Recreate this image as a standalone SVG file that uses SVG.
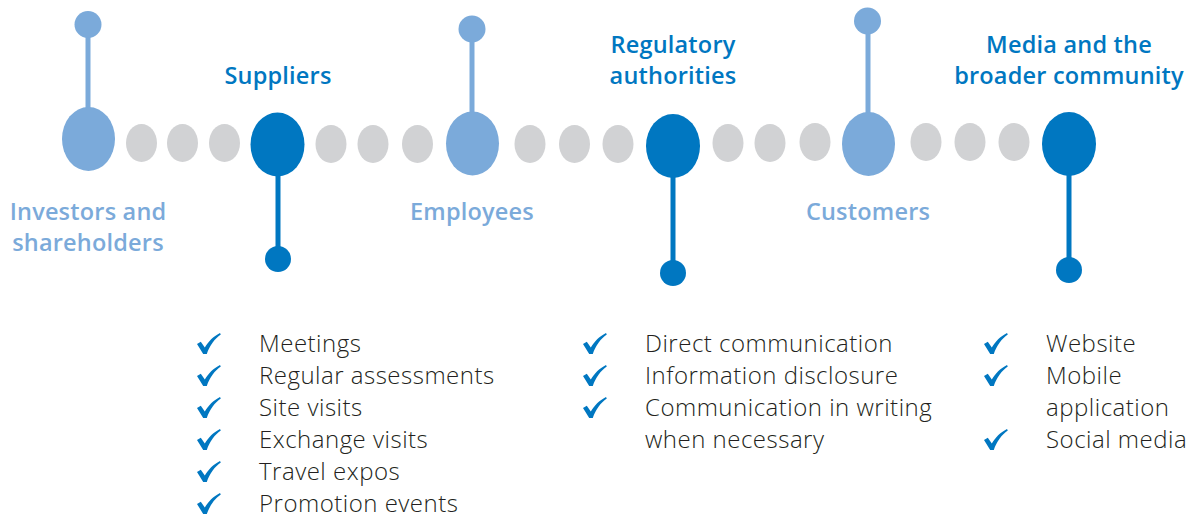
<svg xmlns="http://www.w3.org/2000/svg" xmlns:xlink="http://www.w3.org/1999/xlink" width="1195" height="517" viewBox="0 0 1195 517">
<defs>
<style>
.lb{fill:#7BAADA}
.db{fill:#0077C1}
.gr{fill:#D1D2D4}
.stl{stroke:#7BAADA;stroke-width:5}
.std{stroke:#0077C1;stroke-width:5}
.hl{font-family:"Open Sans","Liberation Sans",sans-serif;font-weight:600;font-size:23.5px;letter-spacing:0.2px;text-anchor:middle}
.tl{fill:#7BAADA}
.td{fill:#0077C1}
.body{font-family:"Open Sans","Liberation Sans",sans-serif;font-weight:300;font-size:24px;letter-spacing:0.5px;fill:#231F20}
</style>
<symbol id="chk" viewBox="0 0 24 21" overflow="visible">
<path d="M0,11 L3.8,8.8 L7.8,14.6 C11.5,8.5 16,3.5 23,0 L23.8,1.6 C17.5,6 12.8,12.5 9.8,21 L6.2,21 Z" fill="#0077C1"/>
</symbol>
</defs>
<rect width="1195" height="517" fill="#ffffff"/>
<g id="connectors">
<line class="stl" x1="88" y1="25" x2="88" y2="120"/>
<line class="std" x1="278" y1="150" x2="278" y2="259"/>
<line class="stl" x1="472" y1="29" x2="472" y2="125"/>
<line class="std" x1="673" y1="150" x2="673" y2="273"/>
<line class="stl" x1="868" y1="21" x2="868" y2="125"/>
<line class="std" x1="1069" y1="150" x2="1069" y2="270"/>
</g>
<g id="dots">
<ellipse class="gr" cx="141.5" cy="143" rx="15.5" ry="19"/>
<ellipse class="gr" cx="182.5" cy="143" rx="15.5" ry="19"/>
<ellipse class="gr" cx="224.5" cy="143" rx="15.5" ry="19"/>
<ellipse class="gr" cx="331" cy="144" rx="15.5" ry="19"/>
<ellipse class="gr" cx="373" cy="144" rx="15.5" ry="19"/>
<ellipse class="gr" cx="417.5" cy="144" rx="15.5" ry="19"/>
<ellipse class="gr" cx="530" cy="144" rx="15.5" ry="19"/>
<ellipse class="gr" cx="574.5" cy="144" rx="15.5" ry="19"/>
<ellipse class="gr" cx="618" cy="144" rx="15.5" ry="19"/>
<ellipse class="gr" cx="728" cy="143" rx="15.5" ry="19"/>
<ellipse class="gr" cx="770" cy="143" rx="15.5" ry="19"/>
<ellipse class="gr" cx="815" cy="142" rx="15.5" ry="19"/>
<ellipse class="gr" cx="926" cy="142" rx="15.5" ry="19"/>
<ellipse class="gr" cx="970" cy="142" rx="15.5" ry="19"/>
<ellipse class="gr" cx="1014" cy="142" rx="15.5" ry="19"/>
</g>
<g id="investors">
<circle class="lb" cx="88" cy="24.5" r="13.5"/>
<ellipse class="lb" cx="88.5" cy="139" rx="26.5" ry="32"/>
<text class="hl tl" x="88" y="220">Investors and</text>
<text class="hl tl" x="88" y="251">shareholders</text>
</g>
<g id="suppliers">
<ellipse class="db" cx="277.5" cy="144.5" rx="27" ry="32"/>
<circle class="db" cx="278" cy="259" r="13"/>
<text class="hl td" x="278" y="84">Suppliers</text>
</g>
<g id="employees">
<circle class="lb" cx="472" cy="29" r="13.5"/>
<ellipse class="lb" cx="472.5" cy="143.5" rx="26.5" ry="32"/>
<text class="hl tl" x="472" y="220">Employees</text>
</g>
<g id="regulatory">
<ellipse class="db" cx="673" cy="146" rx="27" ry="32"/>
<circle class="db" cx="673" cy="273" r="13"/>
<text class="hl td" x="673" y="53">Regulatory</text>
<text class="hl td" x="673" y="84">authorities</text>
</g>
<g id="customers">
<circle class="lb" cx="867.5" cy="21" r="13.5"/>
<ellipse class="lb" cx="868.5" cy="144" rx="26.5" ry="32"/>
<text class="hl tl" x="868" y="220">Customers</text>
</g>
<g id="media">
<ellipse class="db" cx="1069" cy="144" rx="27" ry="32"/>
<circle class="db" cx="1069" cy="270" r="13"/>
<text class="hl td" x="1069" y="53">Media and the</text>
<text class="hl td" x="1069" y="84">broader community</text>
</g>
<g id="list-suppliers">
<use xlink:href="#chk" x="197" y="333" width="24" height="21"/>
<use xlink:href="#chk" x="197" y="365" width="24" height="21"/>
<use xlink:href="#chk" x="197" y="397" width="24" height="21"/>
<use xlink:href="#chk" x="197" y="429" width="24" height="21"/>
<use xlink:href="#chk" x="197" y="461" width="24" height="21"/>
<use xlink:href="#chk" x="197" y="493" width="24" height="21"/>
<text class="body" x="259" y="352">Meetings</text>
<text class="body" x="259" y="384">Regular assessments</text>
<text class="body" x="259" y="416">Site visits</text>
<text class="body" x="259" y="448">Exchange visits</text>
<text class="body" x="259" y="480">Travel expos</text>
<text class="body" x="259" y="512">Promotion events</text>
</g>
<g id="list-regulatory">
<use xlink:href="#chk" x="583" y="333" width="24" height="21"/>
<use xlink:href="#chk" x="583" y="365" width="24" height="21"/>
<use xlink:href="#chk" x="583" y="397" width="24" height="21"/>
<text class="body" x="645" y="352">Direct communication</text>
<text class="body" x="645" y="384">Information disclosure</text>
<text class="body" x="645" y="416">Communication in writing</text>
<text class="body" x="645" y="448">when necessary</text>
</g>
<g id="list-media">
<use xlink:href="#chk" x="984" y="333" width="24" height="21"/>
<use xlink:href="#chk" x="984" y="365" width="24" height="21"/>
<use xlink:href="#chk" x="984" y="429" width="24" height="21"/>
<text class="body" x="1046" y="352">Website</text>
<text class="body" x="1046" y="384">Mobile</text>
<text class="body" x="1046" y="416">application</text>
<text class="body" x="1046" y="448">Social media</text>
</g>
</svg>
